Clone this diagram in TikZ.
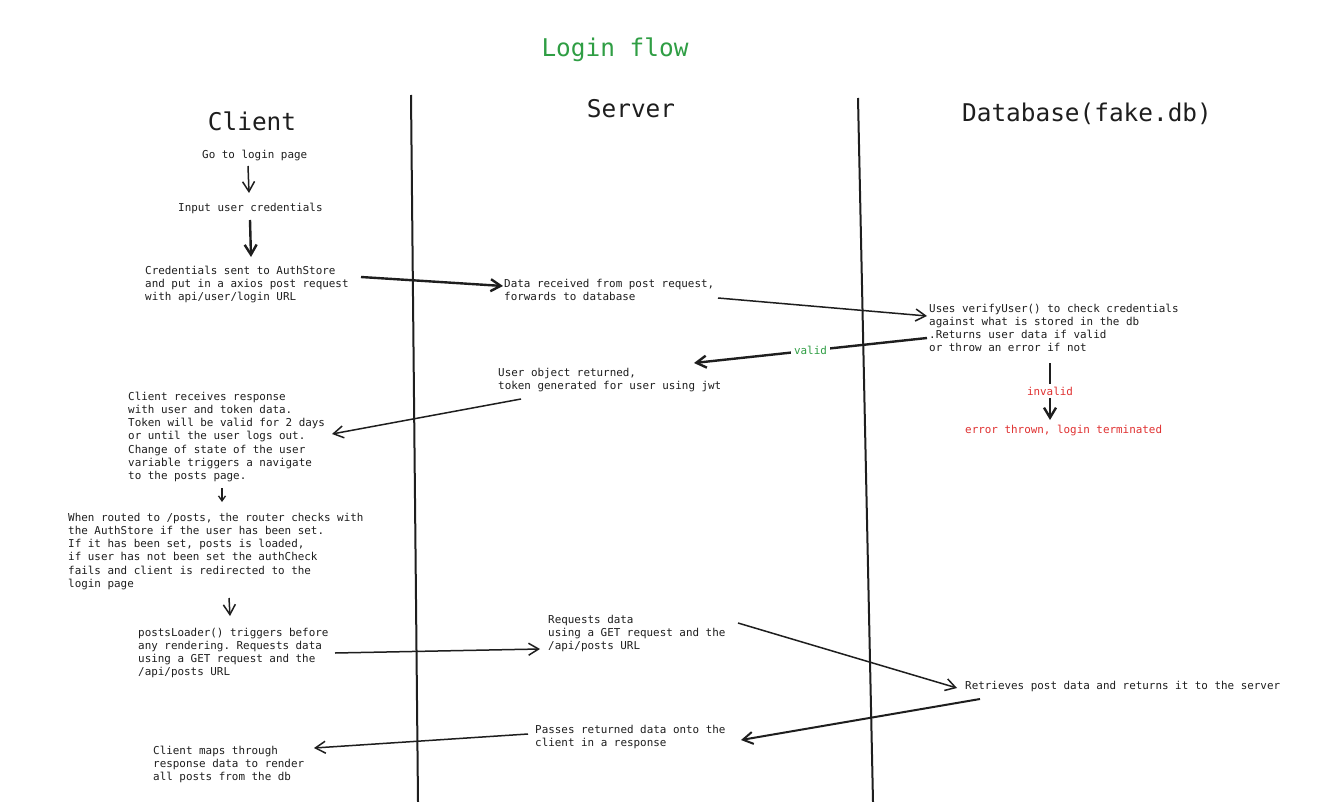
\documentclass[tikz,border=0pt]{standalone}
\usepackage{fontspec}
\newfontfamily\dmono{DejaVu Sans Mono}
\usetikzlibrary{arrows.meta}
\definecolor{ink}{HTML}{1E1E1E}
\definecolor{okgreen}{HTML}{2F9E44}
\definecolor{errred}{HTML}{E03131}
\newcommand\mlines[1]{\begin{tabular}[t]{@{}l@{}}#1\end{tabular}}
\frenchspacing
\begin{document}
\frenchspacing
\begin{tikzpicture}[x=1pt,y=-1pt,
  txt/.style={font=\dmono\frenchspacing\fontsize{10.9}{13.3}\selectfont, text=ink, inner sep=0pt, anchor=base west},
  head/.style={font=\dmono\fontsize{24.4}{29}\selectfont, text=ink, inner sep=0pt, anchor=base},
  arr/.style={draw=ink, line width=1.5pt, -{Straight Barb[length=10pt,width=12pt]}},
  thickarr/.style={arr, line width=2.4pt},
  smallarr/.style={draw=ink, line width=1.3pt, -{Straight Barb[length=5pt,width=7pt]}},
  lane/.style={draw=ink, line width=2pt},
  lbl/.style={font=\dmono\fontsize{10.9}{13.3}\selectfont, fill=white, inner sep=3pt}
]
\useasboundingbox[fill=white] (0,0) rectangle (1329,802);

% title and lane headers
\node[head, text=okgreen] (title) at (615,57) {Login flow};
\node[head] (hclient) at (252,131) {Client};
\node[head] (hserver) at (631,118) {Server};
\node[head] (hdb) at (1087,122) {Database(fake.db)};

% lane separators
\coordinate (l1t) at (411,95);
\coordinate (l1b) at (418,802);
\coordinate (l2t) at (858,98);
\coordinate (l2b) at (873,802);
\draw[lane] (l1t) -- (l1b);
\draw[lane] (l2t) -- (l2b);

% client texts
\node[txt] (go) at (202,159) {Go to login page};
\node[txt] (input) at (178,212) {Input user credentials};
\node[txt] (cred) at (145,274) {\mlines{Credentials sent to AuthStore\\and put in a axios post request\\with api/user/login URL}};
\node[txt] (crr) at (128,400) {\mlines{Client receives response\\with user and token data.\\Token will be valid for 2 days\\or until the user logs out.\\Change of state of the user\\variable triggers a navigate\\to the posts page.}};
\node[txt] (routed) at (68,521) {\mlines{When routed to /posts, the router checks with\\the AuthStore if the user has been set.\\If it has been set, posts is loaded,\\if user has not been set the authCheck\\fails and client is redirected to the\\login page}};
\node[txt] (loader) at (138,636) {\mlines{postsLoader() triggers before\\any rendering. Requests data\\using a GET request and the\\/api/posts URL}};
\node[txt] (maps) at (153,754) {\mlines{Client maps through\\response data to render\\all posts from the db}};

% server texts
\node[txt] (data) at (504,287) {\mlines{Data received from post request,\\forwards to database}};
\node[txt] (userobj) at (498,376) {\mlines{User object returned,\\token generated for user using jwt}};
\node[txt] (req) at (548,623) {\mlines{Requests data\\using a GET request and the\\/api/posts URL}};
\node[txt] (passes) at (535,733) {\mlines{Passes returned data onto the\\client in a response}};

% database texts
\node[txt] (uses) at (929,312) {\mlines{Uses verifyUser() to check credentials\\against what is stored in the db\\.Returns user data if valid\\or throw an error if not}};
\node[txt, text=errred] (err) at (965,433) {error thrown, login terminated};
\node[txt] (retr) at (965,689) {Retrieves post data and returns it to the server};

% connectors
\draw[arr] ([shift={(46,7)}]go.base west) -- ([shift={(71,-19)}]input.base west);
\draw[thickarr] ([shift={(72,8)}]input.base west) -- ([shift={(106,-17)}]cred.base west);
\draw[thickarr] ([shift={(216,3)}]cred.base west) -- ([shift={(-1,-1)}]data.base west);
\draw[arr] ([shift={(214,11)}]data.base west) -- ([shift={(-2,4)}]uses.base west);
\draw[thickarr] ([shift={(-2,26)}]uses.base west) -- node[lbl, text=okgreen, pos=0.5] (valid) {valid} ([shift={(196,-13)}]userobj.base west);
\draw[thickarr] ([shift={(121,51)}]uses.base west) -- node[lbl, text=errred, pos=0.49] (invalid) {invalid} ([shift={(85,-13)}]err.base west);
\draw[arr] ([shift={(23,23)}]userobj.base west) -- ([shift={(204,34)}]crr.base west);
\draw[smallarr] ([shift={(94,88)}]crr.base west) -- ([shift={(154,-19)}]routed.base west);
\draw[arr] ([shift={(161,77)}]routed.base west) -- ([shift={(92,-20)}]loader.base west);
\draw[arr] ([shift={(197,17)}]loader.base west) -- ([shift={(-8,26)}]req.base west);
\draw[arr] ([shift={(190,0)}]req.base west) -- ([shift={(-8,-1)}]retr.base west);
\draw[thickarr, line width=2pt] ([shift={(15,10)}]retr.base west) -- ([shift={(206,7)}]passes.base west);
\draw[arr] ([shift={(-7,1)}]passes.base west) -- ([shift={(161,-6)}]maps.base west);
\end{tikzpicture}
\end{document}
